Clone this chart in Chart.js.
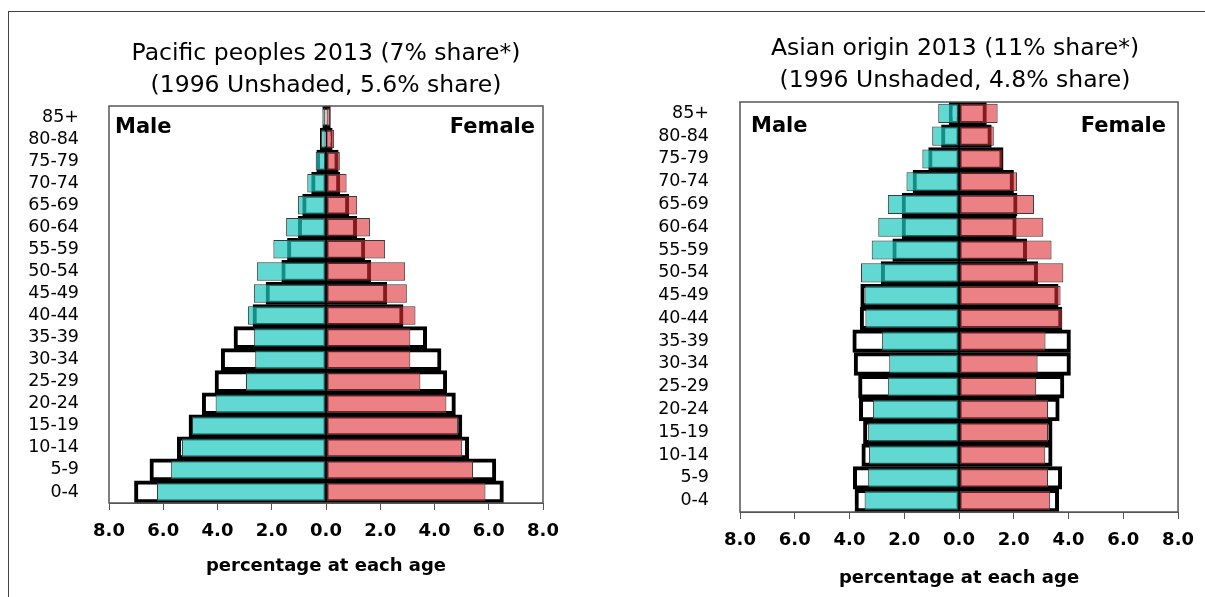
<!DOCTYPE html>
<html>
<head>
<meta charset="utf-8">
<script src="https://cdn.jsdelivr.net/npm/chart.js@4.4.1/dist/chart.umd.min.js"></script>
<style>
  html, body { margin: 0; padding: 0; background: #fff; }
  body { width: 1205px; height: 597px; position: relative; overflow: hidden; font-family: "DejaVu Sans", sans-serif; }
  .frame { position: absolute; left: 8px; top: 11px; width: 1300px; height: 700px; border-top: 1px solid #444; border-left: 1px solid #444; }
  .title { position: absolute; width: 600px; text-align: center; font-size: 23.5px; line-height: 32px; color: #000; }
  .box { position: absolute; top: 0; height: 597px; }
</style>
</head>
<body>
<div class="frame"></div>
<div class="box" style="left:0;width:620px"><canvas id="pacific"></canvas></div>
<div class="box" style="left:620px;width:585px"><canvas id="asian"></canvas></div>
<div class="title" style="left:26px;top:36px">Pacific peoples 2013 (7% share*)<br>(1996 Unshaded, 5.6% share)</div>
<div class="title" style="left:655px;top:31px">Asian origin 2013 (11% share*)<br>(1996 Unshaded, 4.8% share)</div>

<script>
const ageGroups = ['0-4','5-9','10-14','15-19','20-24','25-29','30-34','35-39','40-44',
  '45-49','50-54','55-59','60-64','65-69','70-74','75-79','80-84','85+'];

// Pacific peoples, % at each age
const pacificMale2013   = [6.23,5.71,5.31,4.94,4.07,2.95,2.61,2.65,2.88,2.66,2.55,1.94,1.47,1.03,0.69,0.38,0.18,0.10];
const pacificFemale2013 = [5.88,5.42,5.02,4.87,4.44,3.48,3.11,3.11,3.30,2.98,2.92,2.18,1.62,1.15,0.76,0.51,0.30,0.15];
const pacificMale1996   = [7.00,6.43,5.42,4.99,4.50,4.03,3.80,3.33,2.63,2.15,1.57,1.36,0.96,0.80,0.47,0.28,0.15,0.06];
const pacificFemale1996 = [6.48,6.20,5.20,4.95,4.71,4.39,4.18,3.65,2.78,2.18,1.59,1.37,1.07,0.78,0.45,0.39,0.17,0.10];

// Asian origin, % at each age
const asianMale2013   = [3.45,3.32,3.29,3.32,3.14,2.60,2.55,2.81,3.42,3.45,3.58,3.19,2.95,2.60,1.92,1.34,0.98,0.76];
const asianFemale2013 = [3.33,3.25,3.15,3.25,3.25,2.82,2.87,3.16,3.76,3.71,3.81,3.38,3.08,2.74,2.12,1.59,1.27,1.41];
const asianMale1996   = [3.74,3.80,3.49,3.43,3.58,3.61,3.77,3.82,3.55,3.53,2.78,2.36,2.02,2.02,1.62,1.05,0.58,0.30];
const asianFemale1996 = [3.58,3.69,3.34,3.34,3.60,3.77,4.01,4.01,3.70,3.56,2.81,2.41,2.03,2.06,1.93,1.55,1.12,0.94];

const FONT = '"DejaVu Sans", sans-serif';
const maleFill = 'rgba(30,200,189,0.7)';
const femaleFill = 'rgba(223,45,52,0.6)';

// plot frame + Male / Female labels
const frameAndSex = {
  id: 'frameAndSex',
  afterDatasetsDraw(chart, args, opts) {
    const a = chart.chartArea, ctx = chart.ctx;
    ctx.save();
    ctx.strokeStyle = '#555';
    ctx.lineWidth = 1.5;
    ctx.strokeRect(a.left, a.top, a.right - a.left, a.bottom - a.top);
    ctx.fillStyle = '#000';
    ctx.font = 'bold 21px ' + FONT;
    ctx.textBaseline = 'alphabetic';
    ctx.textAlign = 'left';
    ctx.fillText('Male', a.left + opts.inset[0], a.top + opts.base);
    ctx.textAlign = 'right';
    ctx.fillText('Female', a.right - opts.inset[1], a.top + opts.base);
    ctx.restore();
  }
};

function pyramid(id, male13, female13, male96, female96, L) {
  const neg = arr => arr.map(v => -v);
  const now = { grouped: false, borderSkipped: false, borderColor: '#3a3a3a', borderWidth: 1,
    barPercentage: 0.84, categoryPercentage: 1, inflateAmount: 0, order: 0 };
  const old = { grouped: false, borderSkipped: false, backgroundColor: '#fff', borderColor: '#000', borderWidth: 4,
    barPercentage: 0.85, categoryPercentage: 1, inflateAmount: 2, order: 1 };

  new Chart(document.getElementById(id), {
    type: 'bar',
    data: {
      labels: ageGroups,
      datasets: [
        { label: 'Male 2013', data: neg(male13), backgroundColor: maleFill, ...now },
        { label: 'Female 2013', data: female13, backgroundColor: femaleFill, ...now },
        { label: 'Male 1996', data: neg(male96), ...old },
        { label: 'Female 1996', data: female96, ...old }
      ]
    },
    options: {
      indexAxis: 'y',
      responsive: true,
      maintainAspectRatio: false,
      animation: false,
      layout: { padding: L.pad },
      plugins: {
        legend: { display: false },
        tooltip: { enabled: false },
        frameAndSex: { inset: L.inset, base: L.sexBase }
      },
      scales: {
        x: {
          min: -8, max: 8,
          ticks: { stepSize: 2, maxRotation: 0, padding: 11, color: '#000',
            font: { family: FONT, size: 18, weight: 'bold' },
            callback: v => Math.abs(v).toFixed(1) },
          grid: { drawOnChartArea: false, tickLength: 7, color: '#555' },
          border: { color: '#555' },
          title: { display: true, text: 'percentage at each age', color: '#000',
            font: { family: FONT, size: 18, weight: 'bold' },
            padding: { top: 0, bottom: L.titlePad } },
          afterFit(s) { s.height = L.xh; }
        },
        y: {
          reverse: true,
          grid: { display: false },
          border: { display: false },
          ticks: { color: '#000', padding: L.labelPad, autoSkip: false, font: { family: FONT, size: 17.5 } },
          afterFit(s) { s.width = L.yw; }
        }
      }
    },
    plugins: [frameAndSex]
  });
}

pyramid('pacific', pacificMale2013, pacificFemale2013, pacificMale1996, pacificFemale1996,
  { pad: { top: 106, right: 77, left: 0, bottom: 0 }, yw: 109, xh: 94, titlePad: 20, sexBase: 27, inset: [6, 8], labelPad: 22 });
pyramid('asian', asianMale2013, asianFemale2013, asianMale1996, asianFemale1996,
  { pad: { top: 102, right: 26, left: 0, bottom: 0 }, yw: 120, xh: 85, titlePad: 8, sexBase: 30, inset: [11, 12], labelPad: 23 });
</script>
</body>
</html>
